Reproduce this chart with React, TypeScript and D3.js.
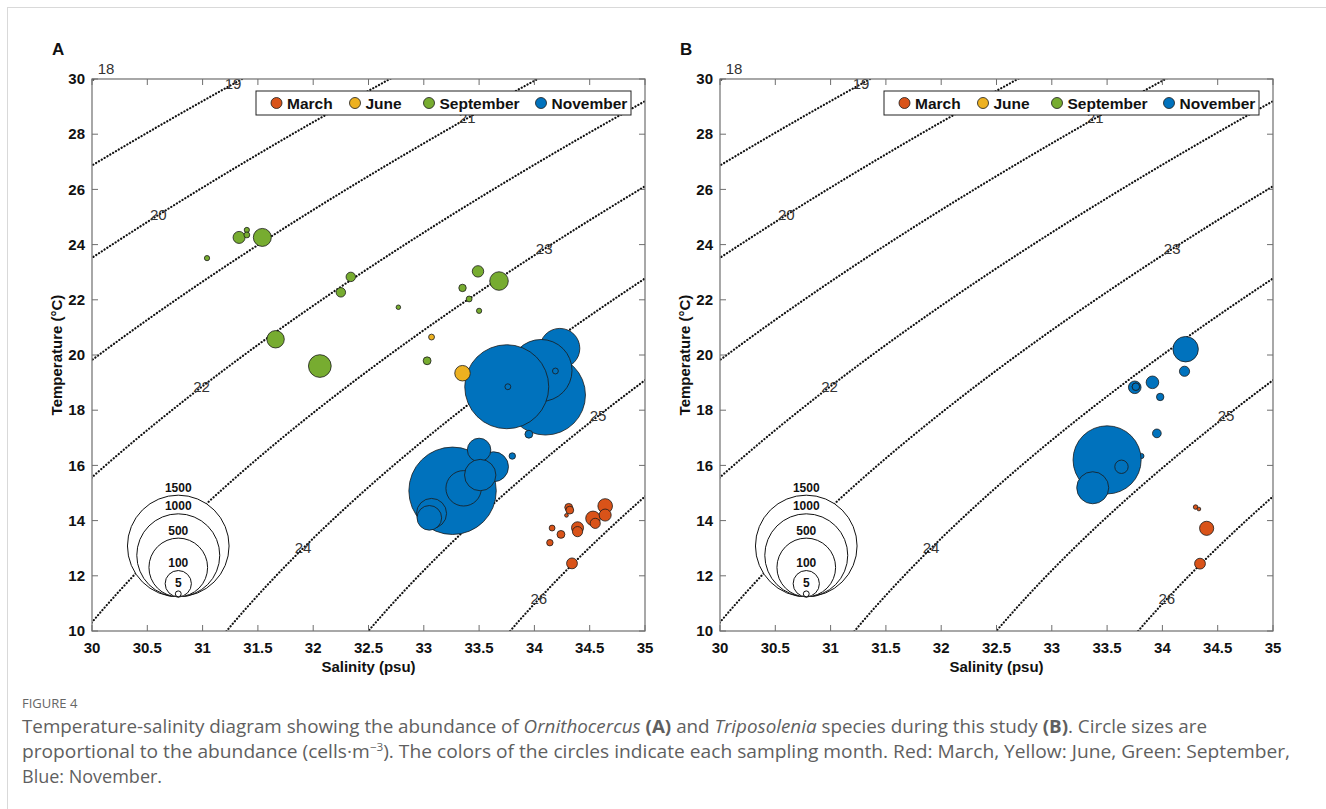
import React from 'react';
import * as d3 from 'd3';

// ---------- data ----------
const months = ['March', 'June', 'September', 'November'];
const monthColors = ['#D95319', '#EDB120', '#77AC30', '#0072BD'];
const xTicks = [30, 30.5, 31, 31.5, 32, 32.5, 33, 33.5, 34, 34.5, 35];
const yTicks = [10, 12, 14, 16, 18, 20, 22, 24, 26, 28, 30];
const isoLevels = [18, 19, 20, 21, 22, 23, 24, 25, 26];
const isoLabelT = [30.36, 29.82, 25.07, 28.58, 18.84, 23.84, 13.0, 17.79, 11.16];
const sizeLegendValues = [1500, 1000, 500, 100, 5];

// Panel A: Ornithocercus (draw order = array order); month index into months
const ornMonth = [
  3, 3, 3, 3, 3, 3, 3, 3,
  3, 3, 3, 3, 3, 3, 3,
  1, 1,
  2, 2, 2, 2, 2, 2, 2, 2, 2, 2, 2, 2, 2, 2, 2, 2,
  0, 0, 0, 0, 0, 0, 0, 0, 0, 0, 0, 0, 0,
];
const ornSalinity = [
  34.10, 34.23, 34.06, 33.75, 33.76, 34.19, 33.95, 33.80,
  33.26, 33.63, 33.50, 33.36, 33.51, 33.07, 33.05,
  33.07, 33.35,
  31.04, 31.33, 31.40, 31.40, 31.54, 32.34, 32.25, 32.77, 31.66, 32.06, 33.03, 33.49, 33.68, 33.35, 33.41, 33.50,
  34.31, 34.32, 34.29, 34.16, 34.24, 34.14, 34.39, 34.39, 34.53, 34.55, 34.64, 34.64, 34.34,
];
const ornTemperature = [
  18.55, 20.24, 19.44, 18.85, 18.85, 19.42, 17.13, 16.34,
  15.08, 15.95, 16.56, 15.17, 15.65, 14.26, 14.10,
  20.65, 19.34,
  23.51, 24.26, 24.53, 24.35, 24.26, 22.83, 22.27, 21.73, 20.57, 19.60, 19.79, 23.03, 22.68, 22.43, 22.03, 21.60,
  14.48, 14.38, 14.19, 13.73, 13.50, 13.20, 13.74, 13.60, 14.08, 13.90, 14.53, 14.20, 12.45,
];
const ornAbundance = [
  930, 232, 558, 1025, 5, 5, 9, 6,
  1110, 131, 80, 182, 143, 131, 88,
  5, 35,
  4, 21, 4, 5, 47, 13, 13, 3, 44, 75, 9, 19, 50, 8, 5, 4,
  9, 9, 2, 5, 9, 6, 21, 15, 31, 15, 31, 21, 17,
];

// Panel B: Triposolenia
const triMonth = [3, 3, 3, 3, 3, 3, 3, 3, 3, 3, 3, 3, 0, 0, 0, 0];
const triSalinity = [34.21, 34.20, 33.75, 33.76, 33.91, 33.98, 33.95, 33.81, 33.50, 33.37, 33.63, 33.76, 34.30, 34.33, 34.40, 34.34];
const triTemperature = [20.21, 19.41, 18.83, 18.85, 19.01, 18.48, 17.16, 16.34, 16.20, 15.19, 15.95, 18.85, 14.49, 14.42, 13.72, 12.44];
const triAbundance = [94, 15, 23, 8, 23, 8, 11, 4, 674, 149, 26, 8, 3, 2, 29, 17];

// ---------- seawater density (UNESCO EOS-80, p = 0) ----------
function sigmaT(S: number, T: number) {
  const rw = 999.842594 + 6.793952e-2 * T - 9.09529e-3 * T * T + 1.001685e-4 * T ** 3 - 1.120083e-6 * T ** 4 + 6.536332e-9 * T ** 5;
  const A = 0.824493 - 4.0899e-3 * T + 7.6438e-5 * T * T - 8.2467e-7 * T ** 3 + 5.3875e-9 * T ** 4;
  const B = -5.72466e-3 + 1.0227e-4 * T - 1.6546e-6 * T * T;
  const C = 4.8314e-4;
  return rw + A * S + B * S ** 1.5 + C * S * S - 1000;
}
function salinityFor(sigma: number, T: number) {
  let lo = 20, hi = 45;
  for (let i = 0; i < 50; i++) {
    const mid = (lo + hi) / 2;
    if (sigmaT(mid, T) < sigma) lo = mid; else hi = mid;
  }
  return (lo + hi) / 2;
}

const FONT = "'Liberation Sans', Arial, Helvetica, sans-serif";
const W = 553, TOP = 79, BOTTOM = 631;

function Panel({ id, left, letter, mon, sal, temp, ab }: any) {
  const x = d3.scaleLinear().domain([30, 35]).range([left, left + W]);
  const y = d3.scaleLinear().domain([10, 30]).range([BOTTOM, TOP]);
  const r = d3.scaleSqrt().domain([0, 1500]).range([0, 50.8]);
  const line = d3.line<[number, number]>().x(d => x(d[0])).y(d => y(d[1]));
  const Ts = d3.range(4, 36.01, 0.25);
  const axisColor = '#6e6e6e';
  const legCx = x(30.78), legBottom = y(11.24);
  const legX0 = left + 164, legX1 = left + 539;
  const legEntries = [0, 78.5, 152.5, 264.5];
  return (
    <g>
      <defs>
        <clipPath id={`clip-${id}`}>
          <rect x={left} y={TOP} width={W} height={BOTTOM - TOP} />
        </clipPath>
      </defs>
      <text x={left - 40} y={55} fontFamily={FONT} fontWeight="bold" fontSize={17} fill="#111">{letter}</text>
      {/* isopycnals */}
      <g clipPath={`url(#clip-${id})`}>
        {isoLevels.map(lv => (
          <path key={lv} d={line(Ts.map(t => [salinityFor(lv, t), t]) as any) || ''}
            fill="none" stroke="#111" strokeWidth={2.2} strokeDasharray="0.1 3.2" strokeLinecap="round" />
        ))}
      </g>
      {isoLevels.map((lv, i) => (
        <text key={'l' + lv} x={x(salinityFor(lv, isoLabelT[i])) - (lv === 18 ? 6 : 0)} y={y(isoLabelT[i])} dy="0.35em"
          textAnchor="middle" fontFamily={FONT} fontSize={15} fill="#333">{lv}</text>
      ))}
      {/* size legend */}
      {sizeLegendValues.map(v => (
        <circle key={'s' + v} cx={legCx} cy={legBottom - r(v)} r={r(v)} fill="white" stroke="#111" strokeWidth={1} />
      ))}
      {sizeLegendValues.map(v => (
        <text key={'st' + v} x={legCx} y={legBottom - 2 * r(v) - 3.5} textAnchor="middle"
          fontFamily={FONT} fontWeight="bold" fontSize={12} fill="#111">{v}</text>
      ))}
      {/* bubbles */}
      {sal.map((s: number, i: number) => (
        <circle key={'b' + i} cx={x(s)} cy={y(temp[i])} r={r(ab[i])} fill={monthColors[mon[i]]}
          stroke="#1a1a1a" strokeWidth={0.8} />
      ))}
      {/* axes box */}
      <rect x={left} y={TOP} width={W} height={BOTTOM - TOP} fill="none" stroke={axisColor} strokeWidth={1.2} />
      {xTicks.map(t => (
        <g key={'xt' + t}>
          <line x1={x(t)} x2={x(t)} y1={BOTTOM} y2={BOTTOM - 6} stroke={axisColor} strokeWidth={1} />
          <line x1={x(t)} x2={x(t)} y1={TOP} y2={TOP + 6} stroke={axisColor} strokeWidth={1} />
          <text x={x(t)} y={BOTTOM + 22} textAnchor="middle" fontFamily={FONT} fontWeight="bold" fontSize={15} fill="#111">{t}</text>
        </g>
      ))}
      {yTicks.map(t => (
        <g key={'yt' + t}>
          <line x1={left} x2={left + 6} y1={y(t)} y2={y(t)} stroke={axisColor} strokeWidth={1} />
          <line x1={left + W} x2={left + W - 6} y1={y(t)} y2={y(t)} stroke={axisColor} strokeWidth={1} />
          <text x={left - 7} y={y(t)} dy="0.35em" textAnchor="end" fontFamily={FONT} fontWeight="bold" fontSize={15} fill="#111">{t}</text>
        </g>
      ))}
      <text x={left + W / 2} y={672} textAnchor="middle" fontFamily={FONT} fontWeight="bold" fontSize={15} fill="#111">Salinity (psu)</text>
      <text transform={`translate(${left - 30},${(TOP + BOTTOM) / 2}) rotate(-90)`} textAnchor="middle"
        fontFamily={FONT} fontWeight="bold" fontSize={15} fill="#111">Temperature (°C)</text>
      {/* month legend */}
      <rect x={legX0} y={91} width={legX1 - legX0} height={24} fill="white" stroke="#222" strokeWidth={1} />
      {months.map((m, i) => (
        <g key={m}>
          <circle cx={legX0 + 20.5 + legEntries[i]} cy={103} r={5.5} fill={monthColors[i]} stroke="#1a1a1a" strokeWidth={0.8} />
          <text x={legX0 + 31 + legEntries[i]} y={103} dy="0.36em" fontFamily={FONT} fontWeight="bold" fontSize={15.5} fill="#111">{m}</text>
        </g>
      ))}
    </g>
  );
}

export default function App() {
  const capFont = "'Liberation Sans Narrow', 'Open Sans', sans-serif";
  const capColor = '#5f5f5f';
  return (
    <svg width={1326} height={809} style={{ position: 'absolute', left: 0, top: 0, background: 'white' }}>
      <rect x={0} y={0} width={1326} height={809} fill="white" />
      <line x1={7} x2={1326} y1={7.5} y2={7.5} stroke="#d9d9d9" strokeWidth={1} />
      <line x1={7.5} x2={7.5} y1={7} y2={809} stroke="#d9d9d9" strokeWidth={1} />
      <Panel id="A" left={92} letter="A" mon={ornMonth} sal={ornSalinity} temp={ornTemperature} ab={ornAbundance} />
      <Panel id="B" left={720} letter="B" mon={triMonth} sal={triSalinity} temp={triTemperature} ab={triAbundance} />
      <text x={22} y={708} fontFamily={capFont} fontSize={13} fill="#666">FIGURE 4</text>
      <text x={22} y={733} fontFamily={capFont} fontSize={18} fill={capColor} textLength={1185} lengthAdjust="spacingAndGlyphs">
        Temperature-salinity diagram showing the abundance of <tspan fontStyle="italic">Ornithocercus</tspan> <tspan fontWeight="bold">(A)</tspan> and <tspan fontStyle="italic">Triposolenia</tspan> species during this study <tspan fontWeight="bold">(B)</tspan>. Circle sizes are
      </text>
      <text x={22} y={758} fontFamily={capFont} fontSize={18} fill={capColor} textLength={1268} lengthAdjust="spacingAndGlyphs">
        proportional to the abundance (cells·m<tspan dy={-7} fontSize={11}>−3</tspan><tspan dy={7}>). The colors of the circles indicate each sampling month. Red: March, Yellow: June, Green: September,</tspan>
      </text>
      <text x={22} y={783} fontFamily={capFont} fontSize={18} fill={capColor}>Blue: November.</text>
    </svg>
  );
}
